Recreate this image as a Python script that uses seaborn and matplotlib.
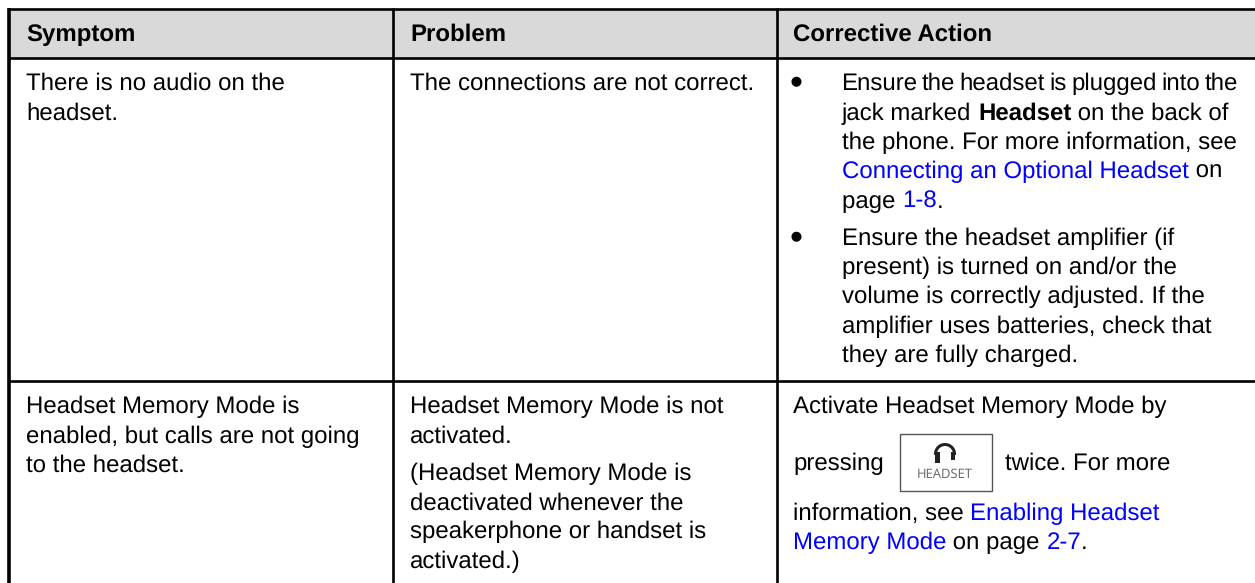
import re
import numpy as np
import matplotlib
matplotlib.use('Agg')
import matplotlib.pyplot as plt
from matplotlib.patches import Arc, Rectangle
import seaborn as sns

# table content, *x* = bold run, [x] = link run
headers = ['Symptom', 'Problem', 'Corrective Action']
symptom_1 = ['There is no audio on the', 'headset.']
problem_1 = ['The connections are not correct.']
action_1_top = 'Ensure the headset is plugged into the'
action_1a = ['jack marked *Headset* on the back of',
             'the phone. For more information, see',
             '[Connecting an Optional Headset] on',
             'page [1-8].']
action_1b = ['Ensure the headset amplifier (if',
             'present) is turned on and/or the',
             'volume is correctly adjusted. If the',
             'amplifier uses batteries, check that',
             'they are fully charged.']
symptom_2 = ['Headset Memory Mode is',
             'enabled, but calls are not going',
             'to the headset.']
problem_2 = ['Headset Memory Mode is not', 'activated.',
             '(Headset Memory Mode is', 'deactivated whenever the',
             'speakerphone or handset is', 'activated.)']
action_2a = ['Activate Headset Memory Mode by']
action_2b = ['pressing']
action_2c = ['twice. For more']
action_2d = ['information, see [Enabling Headset',
             '[Memory Mode] on page [2-7].']
button_label = 'HEADSET'

FONT = 'Liberation Sans'
SIZE = 17.05
DY = 1  # text sits a pixel above the asked baseline otherwise
W, H = 1255, 583

sns.set_theme(style='white')
plt.rcParams['font.family'] = [FONT, 'DejaVu Sans']
plt.rcParams['text.hinting'] = 'no_hinting'
plt.rcParams['text.hinting_factor'] = 1

fig = plt.figure(figsize=(W / 100, H / 100), dpi=100)

# header band as a one cell heatmap
band = fig.add_axes([9 / W, 1 - 58 / H, (W - 9) / W, 49 / H])
sns.heatmap(np.zeros((1, 1)), cmap=['#d9d9d9'], cbar=False, ax=band,
            xticklabels=False, yticklabels=False)

ax = fig.add_axes([0, 0, 1, 1])
ax.set_xlim(0, W)
ax.set_ylim(H, 0)
ax.axis('off')
ax.patch.set_alpha(0)

# rules of the table, the crop cuts off right and bottom edges
for y in [8.5, 57.5, 381]:
    ax.plot([8, W], [y, y], color='black', lw=1.9, solid_capstyle='butt')
for x in [9, 393, 777]:
    lw = 2.6 if x == 9 else 1.9
    ax.plot([x, x], [7.5, H], color='black', lw=lw, solid_capstyle='butt')


def run_width(text, **kwargs):
    """Width of a run, trailing spaces included (guard character trick)."""
    renderer = fig.canvas.get_renderer()
    t = ax.text(0, 0, text + '|', **kwargs)
    full = t.get_window_extent(renderer).width
    t.set_text('|')
    bar = t.get_window_extent(renderer).width
    t.remove()
    return full - bar


def draw_line(x, y, line):
    """Draw one line of text, run by run, so links and bold can sit inline."""
    for run in re.split(r'(\*[^*]+\*|\[[^\]]+\]?)', line):
        if not run:
            continue
        color, weight = 'black', 'normal'
        if run.startswith('*'):
            run, weight = run.strip('*'), 'bold'
        elif run.startswith('['):
            run, color = run.strip('[]'), '#0000ff'
        style = dict(fontsize=SIZE, color=color, weight=weight)
        ax.text(x, y + DY, run, **style)
        x += run_width(run, **style)


def draw_tight(x, y, line, gap):
    """Draw a line word by word with a narrower word gap."""
    for word in line.split():
        ax.text(x, y + DY, word, fontsize=SIZE, color='black')
        x += run_width(word, fontsize=SIZE) + gap


def draw_block(x, baselines, lines):
    for y, line in zip(baselines, lines):
        draw_line(x, y, line)


for x, label in zip([26, 410, 793], headers):
    ax.text(x, 40 + DY, label, fontsize=SIZE, weight='bold', color='black')

draw_block(26, [89, 118.5], symptom_1)
draw_block(410, [89], problem_1)
draw_tight(841, 89, action_1_top, 4.6)
draw_block(842, [119, 148, 177, 207], action_1a)
draw_block(842, [244, 273, 302, 332, 361], action_1b)
for y in [94.5, 249.5]:
    ax.text(790, y, '\u2022', fontsize=26.5, color='black')

draw_block(26, [412, 442, 471], symptom_2)
draw_block(410, [412, 442, 479, 509, 537, 567], problem_2)
draw_block(793, [412], action_2a)
draw_block(793, [469], action_2b)
draw_block(1005, [469], action_2c)
draw_block(793, [519, 548], action_2d)

# headset button
ax.add_patch(Rectangle((899.5, 433.5), 92, 57, fc='white', ec='#555555', lw=1.0))
ax.add_patch(Arc((945, 454), 19, 19, theta1=175, theta2=5, color='#222222', lw=2.2))
ax.add_patch(Rectangle((935, 452), 4.5, 11, fc='#222222', ec='none'))
ax.add_patch(Rectangle((950.5, 452), 4.5, 8, fc='#222222', ec='none'))
ax.text(945, 477.5, button_label, fontsize=9.2, color='#666666', ha='center',
        family=['Open Sans', 'DejaVu Sans'])

fig.savefig('out.png', dpi=100)
